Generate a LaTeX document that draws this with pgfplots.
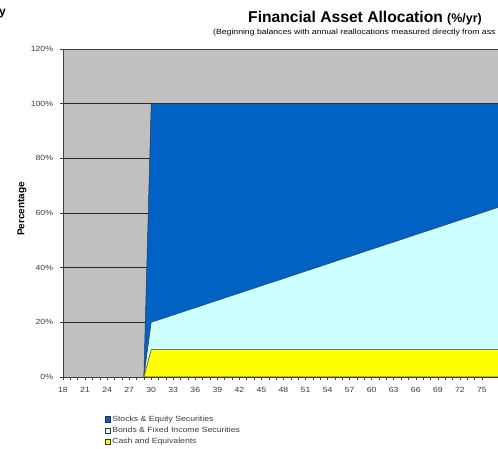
\documentclass[border=0pt]{standalone}
\usepackage{pgfplots}
\pgfplotsset{compat=1.18}
\usepackage{fontspec}
\setmainfont{Liberation Sans}
\newfontfamily\widesans[FakeStretch=1.16]{Liberation Sans}
\definecolor{bgray}{HTML}{C0C0C0}
\definecolor{stockblue}{HTML}{0062C4}
\definecolor{bondcyan}{HTML}{CCFFFF}
\definecolor{cashyellow}{HTML}{FFFF00}
\definecolor{ticktext}{HTML}{3A3A3A}
\begin{document}
\begin{tikzpicture}[x=1bp,y=1bp]
\useasboundingbox (0,0) rectangle (498,449);
\clip (0,0) rectangle (498,449);
\begin{axis}[
  at={(63bp,72bp)}, anchor=south west,
  scale only axis, width=437.3bp, height=328bp,
  xmin=18, xmax=77.5, ymin=0, ymax=120,
  axis background/.style={fill=bgray},
  xtick={18,21,...,75}, minor x tick num=2,
  ytick={0,20,...,120},
  yticklabel={\pgfmathprintnumber{\tick}\%},
  ymajorgrids, grid style={black!85, line width=0.5pt},
  tick align=outside, tick pos=left,
  major tick length=3.5bp, minor tick length=3bp,
  every tick/.style={black!75, line width=0.5pt},
  axis line style={black!75, line width=0.6pt},
  tick label style={font=\widesans\fontsize{7.5}{9}\selectfont, text=ticktext},
  xticklabel style={yshift=-3.5bp},
  yticklabel style={xshift=-3bp},
  /pgf/number format/assume math mode=true,
  ylabel={Percentage},
  ylabel style={font=\bfseries\fontsize{10}{12}\selectfont, at={(axis description cs:-0.094,0.512)}, anchor=center, rotate=0},
  legend style={at={(axis description cs:0.088,-0.110)}, anchor=north west, draw=none, fill=none,
    font=\widesans\fontsize{7.5}{9}\selectfont, text=ticktext, row sep=3.3bp,
    nodes={inner xsep=2bp, inner ysep=0.5bp}},
  legend cell align=left,
  legend image code/.code={\draw[#1,draw=black!80,line width=0.4pt] (0bp,-2.6bp) rectangle (5.2bp,2.6bp);},
]
\addplot[fill=stockblue, draw=black!80, line width=0.5pt] coordinates {(29,0) (30,100) (77.5,100)} \closedcycle;
\addlegendentry{Stocks \& Equity Securities}
\addplot[fill=bondcyan, draw=black!80, line width=0.5pt] coordinates {(29,0) (30,20) (77.5,62.3)} \closedcycle;
\addlegendentry{Bonds \& Fixed Income Securities}
\addplot[fill=cashyellow, draw=black!80, line width=0.5pt] coordinates {(29,0) (30,10) (77.5,10)} \closedcycle;
\addlegendentry{Cash and Equivalents}
\end{axis}
\node[anchor=base west, font=\bfseries\fontsize{15.7}{18}\selectfont, inner sep=0pt] at (248,426) {Financial Asset Allocation {\fontsize{12.5}{14}\selectfont(\%/yr)}};
\node[anchor=base west, font=\widesans\fontsize{7.5}{9}\selectfont, inner sep=0pt] at (213,414.5) {(Beginning balances with annual reallocations measured directly from ass};
\node[anchor=base west, font=\bfseries\fontsize{12}{14}\selectfont, inner sep=0pt] at (-1,433) {y};
\end{tikzpicture}
\end{document}
